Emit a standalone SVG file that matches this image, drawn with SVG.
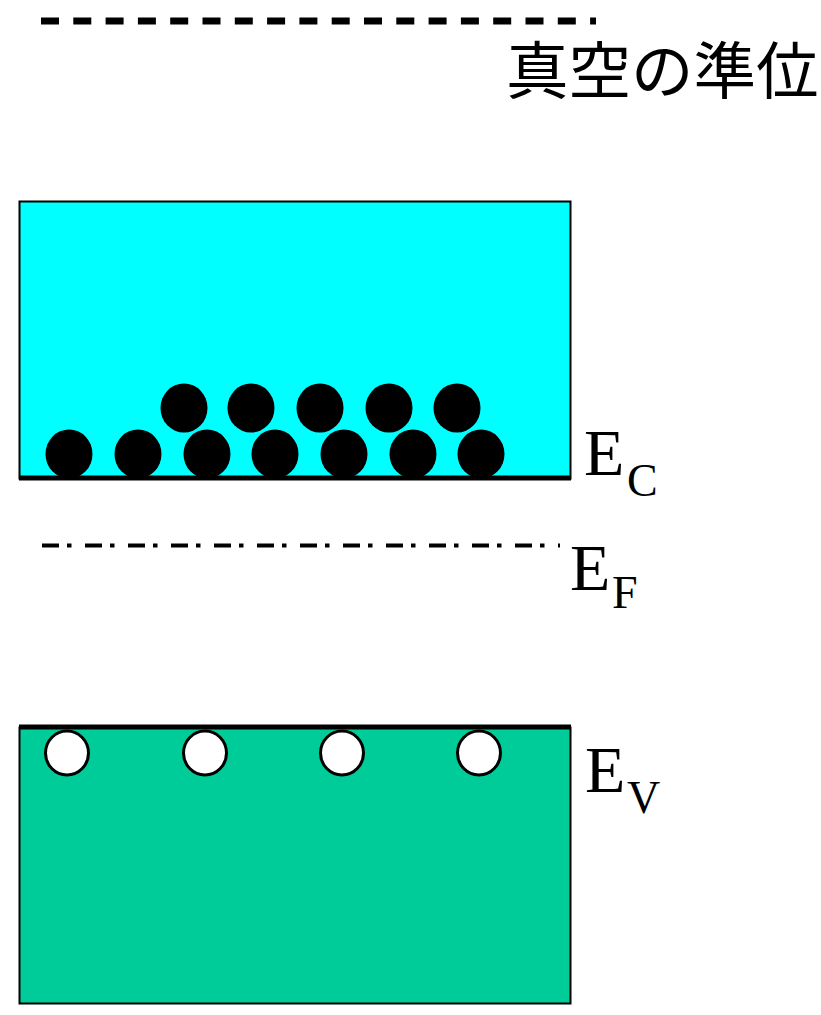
<svg xmlns="http://www.w3.org/2000/svg" width="821" height="1015" viewBox="0 0 821 1015">
<style>
.lbl{font-family:"Liberation Serif","Times New Roman",serif;fill:#000}
.e{fill:#000}
.h{fill:#fff;stroke:#000;stroke-width:3}
</style>
<rect width="821" height="1015" fill="#fff"/>
<g id="vacuum">
<line x1="41" y1="21" x2="596" y2="21" stroke="#000" stroke-width="7" stroke-dasharray="18 14.3"/>
<text x="506" y="94" font-family="'Noto Sans CJK JP','Noto Sans',sans-serif" font-size="62.5">真空の準位</text>
</g>
<g id="conduction">
<rect x="19.5" y="201.5" width="551" height="277" fill="#00FFFF" stroke="#000" stroke-width="2"/>
<g id="electrons">
<ellipse class="e" cx="184" cy="408" rx="23.5" ry="24.5"/>
<ellipse class="e" cx="251" cy="408" rx="23.5" ry="24.5"/>
<ellipse class="e" cx="320" cy="408" rx="23.5" ry="24.5"/>
<ellipse class="e" cx="389" cy="408" rx="23.5" ry="24.5"/>
<ellipse class="e" cx="457" cy="408" rx="23.5" ry="24.5"/>
<ellipse class="e" cx="69" cy="454" rx="23.5" ry="24.5"/>
<ellipse class="e" cx="138" cy="454" rx="23.5" ry="24.5"/>
<ellipse class="e" cx="207" cy="454" rx="23.5" ry="24.5"/>
<ellipse class="e" cx="275" cy="454" rx="23.5" ry="24.5"/>
<ellipse class="e" cx="344" cy="454" rx="23.5" ry="24.5"/>
<ellipse class="e" cx="413" cy="454" rx="23.5" ry="24.5"/>
<ellipse class="e" cx="481" cy="454" rx="23.5" ry="24.5"/>
</g>
<line x1="19" y1="478" x2="571" y2="478" stroke="#000" stroke-width="5"/>
<text class="lbl" x="584" y="475" font-size="66">E<tspan x="627" y="496" font-size="46">C</tspan></text>
</g>
<g id="fermi">
<line x1="42" y1="545.5" x2="560" y2="545.5" stroke="#000" stroke-width="4" stroke-dasharray="17 8 4.5 13.5"/>
<text class="lbl" x="570" y="590" font-size="66">E<tspan x="612" y="608" font-size="46">F</tspan></text>
</g>
<g id="valence">
<rect x="19.5" y="727.5" width="551" height="276" fill="#00CC99" stroke="#000" stroke-width="2"/>
<line x1="19" y1="727" x2="571" y2="727" stroke="#000" stroke-width="5"/>
<g id="holes">
<ellipse class="h" cx="67" cy="753" rx="21.5" ry="22"/>
<ellipse class="h" cx="205" cy="753" rx="21.5" ry="22"/>
<ellipse class="h" cx="342" cy="753" rx="21.5" ry="22"/>
<ellipse class="h" cx="479" cy="753" rx="21.5" ry="22"/>
</g>
<text class="lbl" x="585" y="792" font-size="66">E<tspan x="627" y="813" font-size="46">V</tspan></text>
</g>
</svg>
